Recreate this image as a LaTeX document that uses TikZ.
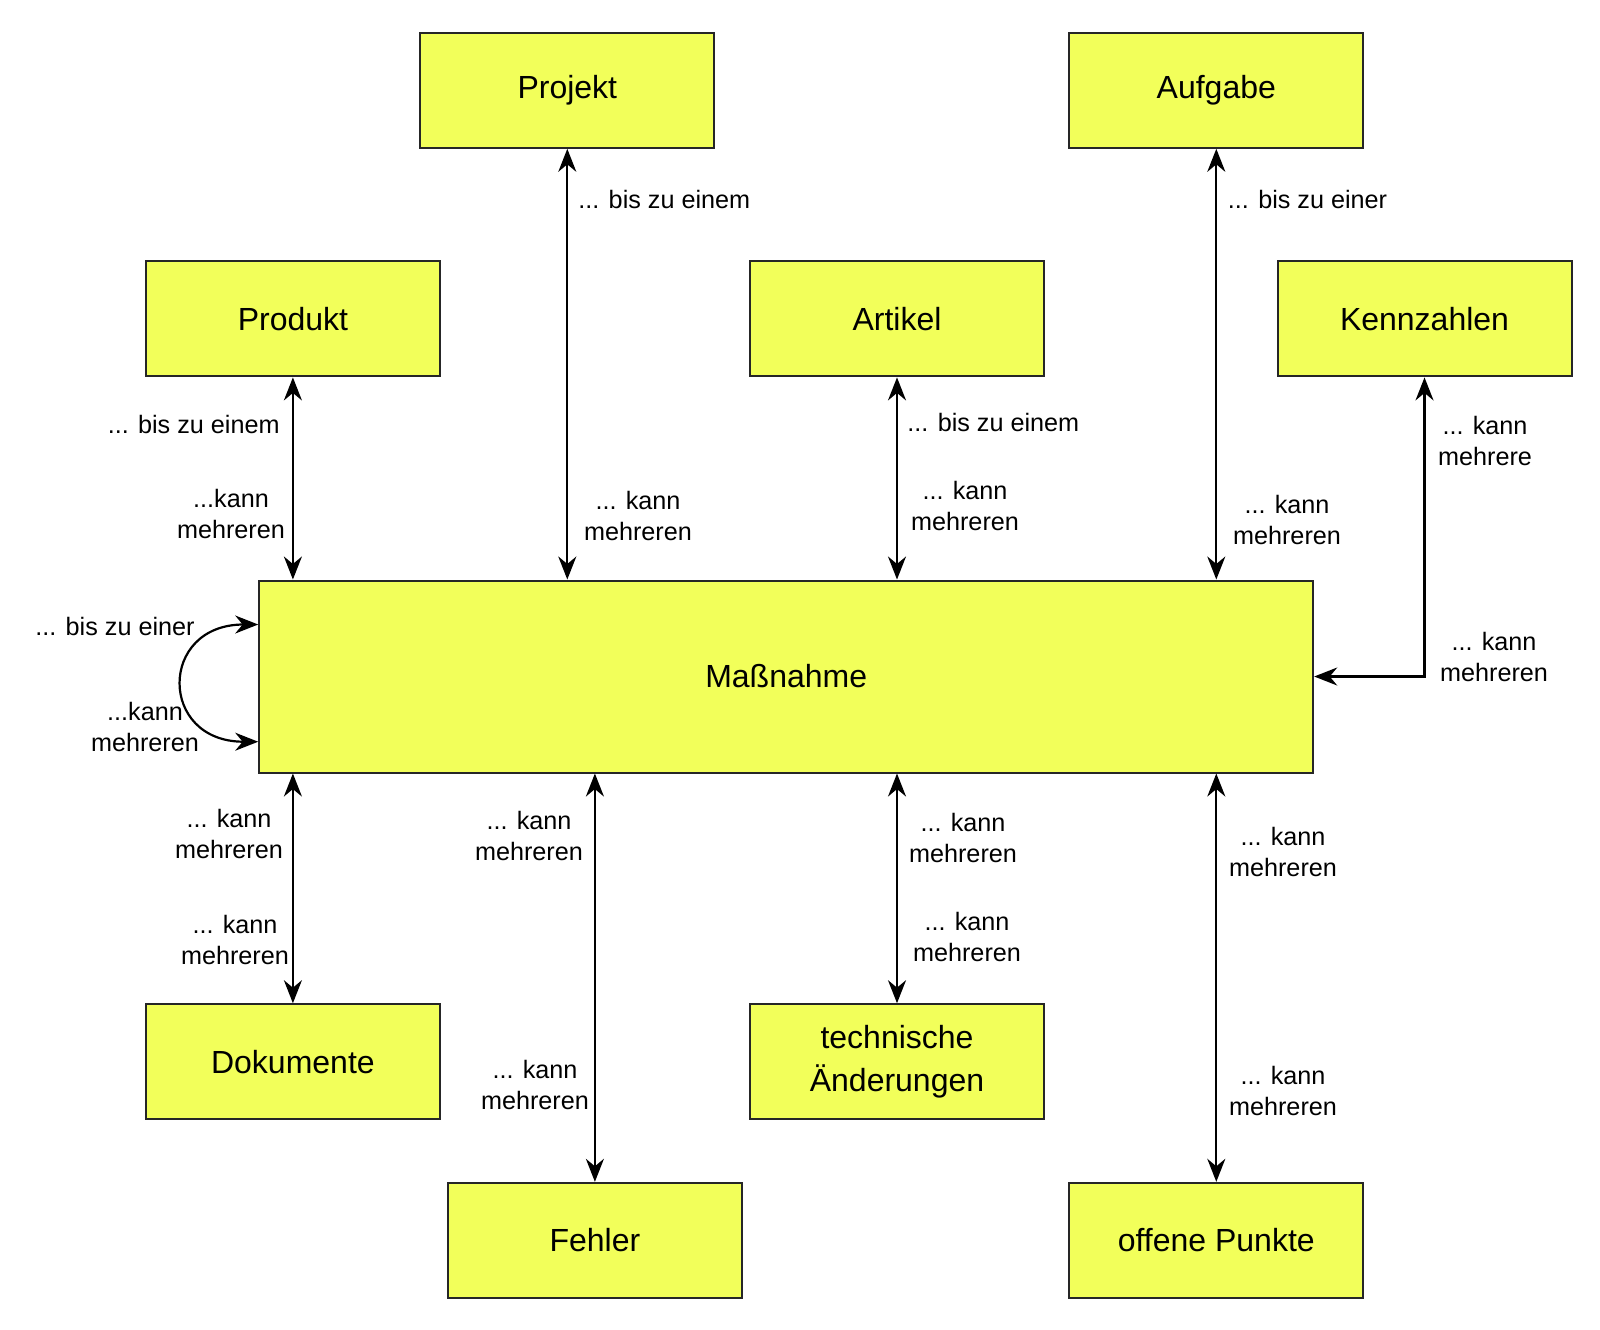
\documentclass[tikz,border=0pt]{standalone}
\usepackage{fontspec}
\setmainfont{Liberation Sans}
\usepackage{xcolor}
\usepackage{tikz}
\usetikzlibrary{arrows.meta,positioning}
\definecolor{entyellow}{RGB}{242,255,90}
\tikzset{
  entbox/.style={
    rectangle,
    draw=black!85,
    line width=1pt,
    fill=entyellow,
    align=center,
    minimum width=147pt,
    minimum height=57.5pt,
    inner sep=0pt,
    font=\fontsize{16}{21.5}\selectfont
  },
  mainbox/.style={
    entbox,
    minimum width=527pt,
    minimum height=96pt
  },
  rellabel/.style={
    align=center,
    inner sep=0pt,
    font=\fontsize{12.6}{15.3}\selectfont
  },
  relarrow/.style={
    {Stealth[length=11.5pt,width=9pt]}-{Stealth[length=11.5pt,width=9pt]},
    line width=1.1pt,
    draw=black
  }
}

\begin{document}
\begin{tikzpicture}[x=0.5pt,y=0.5pt]
\useasboundingbox (0,0) rectangle (1600,-1329);
\node[mainbox] (mass) at (786.2,-676.5) {Maßnahme};
\node[entbox] (proj) at (567.3,-90.3) {Projekt};
\node[entbox] (aufg) at (1216.3,-90.3) {Aufgabe};
\node[entbox] (prod) at (292.9,-318.9) {Produkt};
\node[entbox] (art) at (897,-318.9) {Artikel};
\node[entbox] (kenn) at (1424.5,-318.9) {Kennzahlen};
\node[entbox] (dok) at (292.9,-1061.7) {Dokumente};
\node[entbox] (tech) at (897,-1061.7) {technische\\Änderungen};
\node[entbox] (fehl) at (594.9,-1240.3) {Fehler};
\node[entbox] (offen) at (1216.3,-1240.3) {offene Punkte};

\draw[relarrow] (prod.south) -- (prod.south |- mass.north);
\draw[relarrow] (proj.south) -- (proj.south |- mass.north);
\draw[relarrow] (art.south) -- (art.south |- mass.north);
\draw[relarrow] (aufg.south) -- (aufg.south |- mass.north);
\draw[relarrow] (kenn.south) |- (mass.east);
\draw[relarrow] ([yshift=26pt]mass.west) .. controls +(-100,0) and +(-100,0) .. ([yshift=-32.6pt]mass.west);
\draw[relarrow] (dok.north |- mass.south) -- (dok.north);
\draw[relarrow] (fehl.north |- mass.south) -- (fehl.north);
\draw[relarrow] (tech.north |- mass.south) -- (tech.north);
\draw[relarrow] (offen.north |- mass.south) -- (offen.north);

\node[rellabel, anchor=west] (projtop) at (578,-199) {... bis zu einem};
\node[rellabel] (projbot) at (638,-516) {... kann\\mehreren};
\node[rellabel, anchor=east] (prodtop) at (280,-424.5) {... bis zu einem};
\node[rellabel] (prodbot) at (231,-514) {...kann\\mehreren};
\node[rellabel, anchor=west] (arttop) at (907,-422.5) {... bis zu einem};
\node[rellabel] (artbot) at (965,-506) {... kann\\mehreren};
\node[rellabel, anchor=west] (aufgtop) at (1227.5,-199) {... bis zu einer};
\node[rellabel] (aufgbot) at (1287,-520) {... kann\\mehreren};
\node[rellabel] (kenntop) at (1485,-441) {... kann\\mehrere};
\node[rellabel] (kennbot) at (1494,-657) {... kann\\mehreren};
\node[rellabel, anchor=east] (looptop) at (195,-626.5) {... bis zu einer};
\node[rellabel] (loopbot) at (145,-727) {...kann\\mehreren};
\node[rellabel] (doktop) at (229,-834) {... kann\\mehreren};
\node[rellabel] (dokbot) at (235,-940) {... kann\\mehreren};
\node[rellabel] (fehltop) at (529,-836) {... kann\\mehreren};
\node[rellabel] (fehlbot) at (535,-1085) {... kann\\mehreren};
\node[rellabel] (techtop) at (963,-838) {... kann\\mehreren};
\node[rellabel] (techbot) at (967,-937) {... kann\\mehreren};
\node[rellabel] (offentop) at (1283,-852) {... kann\\mehreren};
\node[rellabel] (offenbot) at (1283,-1091) {... kann\\mehreren};
\end{tikzpicture}
\end{document}
